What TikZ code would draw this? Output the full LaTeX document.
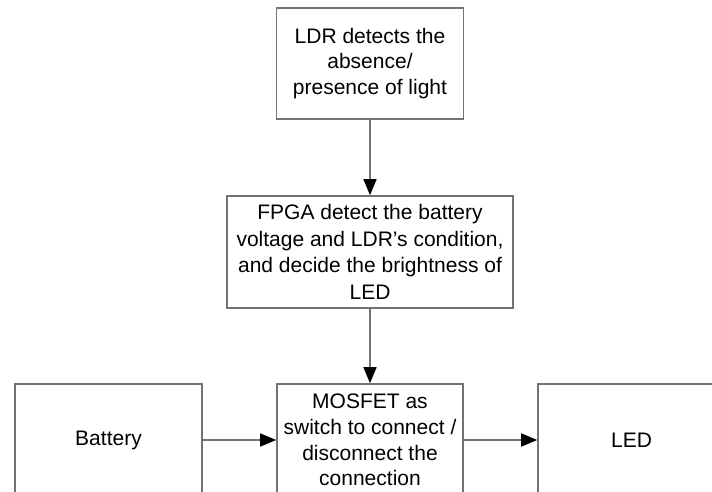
\documentclass[tikz,border=0pt]{standalone}
\usepackage{fontspec}
\setmainfont{Liberation Sans}
\usetikzlibrary{arrows.meta}
\definecolor{edgegray}{gray}{0.45}

\begin{document}
\begin{tikzpicture}[x=0.5pt,y=-0.5pt,
	blok/.style={draw=edgegray, line width=0.8pt, rectangle, inner sep=0pt, align=center,
		minimum width=93.5pt, minimum height=56pt, font=\fontsize{10.5}{12.9}\selectfont},
	pijl/.style={color=edgegray, line width=0.75pt, -{Triangle[length=8pt,width=6.5pt,color=black]}}]

			\clip (0,0) rectangle (712,492);

			\node [blok, minimum height=55.5pt] (ldr) at (370,63.5) {LDR detects the\\absence/\\presence of light};
			\node [blok, minimum width=143pt, font=\fontsize{10.5}{13.3}\selectfont] (fpga) at (370,252) {FPGA detect the battery\\voltage and LDR’s condition,\\and decide the brightness of\\LED};

			\node [blok] (battery) at (108.5,440) {Battery};
			\node [blok, minimum width=93pt] (mosfet) at (370,440) {MOSFET as\\switch to connect /\\disconnect the\\connection};
			\node [blok] (led) at (631.5,440) {LED};

			\draw [pijl] (ldr) -- (fpga);
			\draw [pijl] (fpga) -- (mosfet);
			\draw [pijl] (battery) -- (mosfet);
			\draw [pijl] (mosfet) -- (led);

		\end{tikzpicture}
\end{document}
